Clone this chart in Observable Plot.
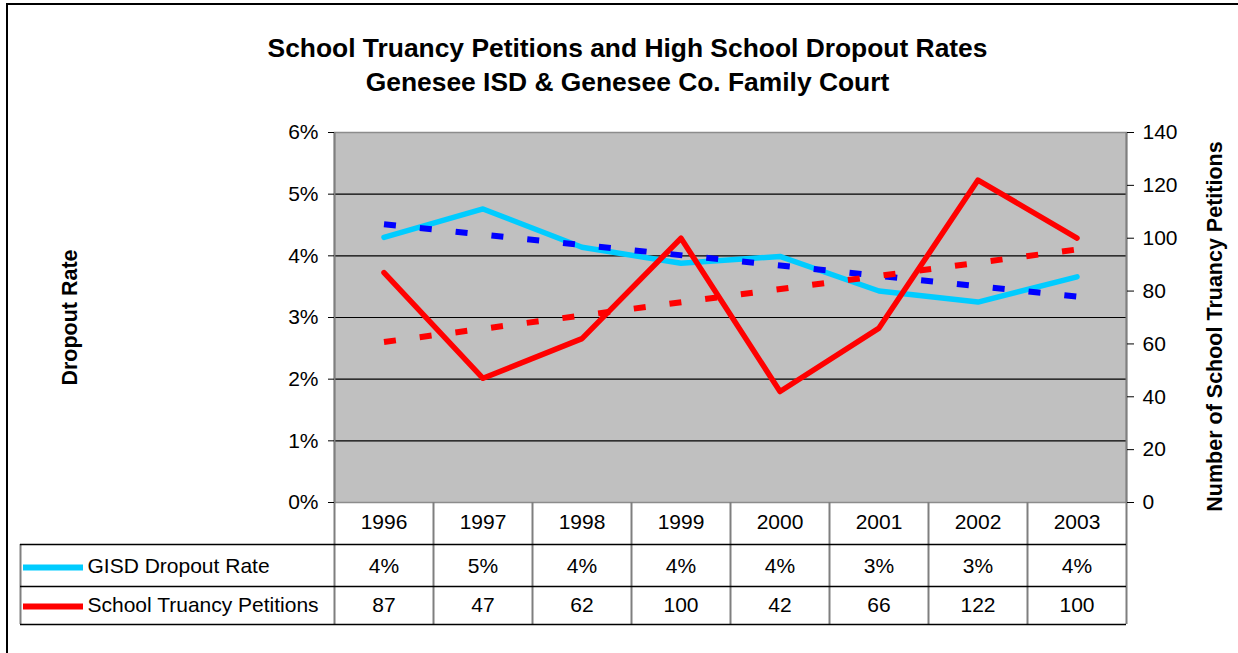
<!DOCTYPE html>
<html>
<head>
<meta charset="utf-8">
<script src="https://cdn.jsdelivr.net/npm/d3@7"></script>
<script src="https://cdn.jsdelivr.net/npm/@observablehq/plot@0.6"></script>
<style>
  html, body { margin: 0; padding: 0; background: #fff; overflow: hidden; }
  #wrap { position: relative; width: 1238px; height: 653px; }
  #wrap svg { position: absolute; left: 0; top: 0; }
  #border { position: absolute; left: 6px; top: 3px; width: 1400px; height: 900px;
            border-left: 2px solid #000; border-top: 2px solid #000; pointer-events: none; }
</style>
</head>
<body>
<div id="wrap"><div id="border"></div></div>
<script>
// ---- data ----
const years = [1996, 1997, 1998, 1999, 2000, 2001, 2002, 2003];
const dropoutRate = [4.30, 4.76, 4.14, 3.88, 3.99, 3.43, 3.25, 3.66]; // percent
const petitions = [87, 47, 62, 100, 42, 66, 122, 100];
const leftTicks = [0, 1, 2, 3, 4, 5, 6];
const rightTicks = [0, 20, 40, 60, 80, 100, 120, 140];
const titleLines = ["School Truancy Petitions and High School Dropout Rates", "Genesee ISD & Genesee Co. Family Court"];
const seriesNames = ["GISD Dropout Rate", "School Truancy Petitions"];
const axisTitles = ["Dropout Rate", "Number of School Truancy Petitions"];

// ---- derived ----
const rateMax = 6, countMax = 140;
const toRate = v => v * rateMax / countMax;
const rows = years.map((year, i) => ({ i, year, rate: dropoutRate[i], petitions: petitions[i], pScaled: toRate(petitions[i]) }));
const edges = d3.range(years.length + 1).map(k => k - 0.5);

const font = '"Liberation Sans", Arial, Helvetica, sans-serif';
const cyan = "#00ccff", red = "#ff0000", blue = "#0000ff", grey = "#7f7f7f";
const fs = 21;

const chart = Plot.plot({
  width: 1238,
  height: 653,
  marginLeft: 334,
  marginRight: 112,
  marginTop: 132,
  marginBottom: 151,
  x: { domain: [-0.5, 7.5], axis: null },
  y: { domain: [0, 6], label: null },
  style: { fontFamily: font, fontSize: fs + "px", background: "transparent", color: "#000", overflow: "visible" },
  marks: [
    Plot.frame({ fill: "#c0c0c0", stroke: "#8c8c8c", strokeWidth: 1.5 }),
    Plot.ruleY(leftTicks.filter(t => t > 0 && t < 6), { stroke: "#000", strokeWidth: 1.2 }),

    Plot.line(rows, { x: "i", y: "rate", stroke: cyan, strokeWidth: 5.5 }),
    Plot.line(rows, { x: "i", y: "pScaled", stroke: red, strokeWidth: 5.5 }),
    Plot.linearRegressionY(rows, { x: "i", y: "rate", stroke: blue, strokeWidth: 6, strokeDasharray: "12,24", strokeLinecap: "butt", ci: 0 }),
    Plot.linearRegressionY(rows, { x: "i", y: "pScaled", stroke: red, strokeWidth: 6, strokeDasharray: "12,24", strokeLinecap: "butt", ci: 0 }),

    // plot side borders extending through the data table
    Plot.ruleX([edges[0], edges[edges.length - 1]], { stroke: grey, strokeWidth: 2, insetBottom: -122 }),
    // column separators in the table
    Plot.ruleX(edges.slice(1, -1), { stroke: grey, strokeWidth: 2, insetTop: 370, insetBottom: -122 }),
    // table left border
    Plot.ruleX([edges[0]], { dx: -314, stroke: grey, strokeWidth: 2, insetTop: 412, insetBottom: -122 }),
    // table horizontal lines
    Plot.ruleY([0], { dy: 42, insetLeft: -314, stroke: "#000", strokeWidth: 1.5 }),
    Plot.ruleY([0], { dy: 84, insetLeft: -314, stroke: "#000", strokeWidth: 1.5 }),
    Plot.ruleY([0], { dy: 122, insetLeft: -314, stroke: "#000", strokeWidth: 1.5 }),
    // legend keys
    Plot.ruleY([0], { dy: 65, insetLeft: -311, insetRight: 1043, stroke: cyan, strokeWidth: 6 }),
    Plot.ruleY([0], { dy: 104, insetLeft: -311, insetRight: 1043, stroke: red, strokeWidth: 6 }),

    // axes
    Plot.axisY(leftTicks, { anchor: "left", tickSize: 6, tickPadding: 10, tickFormat: d => d + "%", fontSize: fs, label: null }),
    Plot.axisY(rightTicks.map(toRate), { anchor: "right", tickSize: 7, tickPadding: 9, tickFormat: d => String(Math.round(d * countMax / rateMax)), fontSize: fs, label: null }),

    // axis titles
    Plot.text([axisTitles[0]], { frameAnchor: "left", dx: -264, rotate: -90, textAnchor: "middle", lineAnchor: "middle", fontWeight: "bold", fontSize: 21.5 }),
    Plot.text([axisTitles[1]], { frameAnchor: "right", dx: 89, dy: 9, rotate: -90, textAnchor: "middle", lineAnchor: "middle", fontWeight: "bold", fontSize: 21.5 }),

    // title
    Plot.text([titleLines[0]], { frameAnchor: "top", dx: -103, dy: -84, textAnchor: "middle", lineAnchor: "middle", fontWeight: "bold", fontSize: 26.4 }),
    Plot.text([titleLines[1]], { frameAnchor: "top", dx: -103, dy: -50, textAnchor: "middle", lineAnchor: "middle", fontWeight: "bold", fontSize: 26.4 }),

    // data table
    Plot.text(rows, { x: "i", frameAnchor: "bottom", dy: 20, lineAnchor: "middle", text: d => String(d.year), fontSize: fs }),
    Plot.text(rows, { x: "i", frameAnchor: "bottom", dy: 64, lineAnchor: "middle", text: d => Math.round(d.rate) + "%", fontSize: fs }),
    Plot.text(rows, { x: "i", frameAnchor: "bottom", dy: 103, lineAnchor: "middle", text: d => String(d.petitions), fontSize: fs }),
    Plot.text([seriesNames[0]], { frameAnchor: "bottom-left", dx: -247, dy: 64, textAnchor: "start", lineAnchor: "middle", fontSize: fs }),
    Plot.text([seriesNames[1]], { frameAnchor: "bottom-left", dx: -247, dy: 103, textAnchor: "start", lineAnchor: "middle", fontSize: fs })
  ]
});
document.getElementById("wrap").appendChild(chart);
</script>
</body>
</html>
